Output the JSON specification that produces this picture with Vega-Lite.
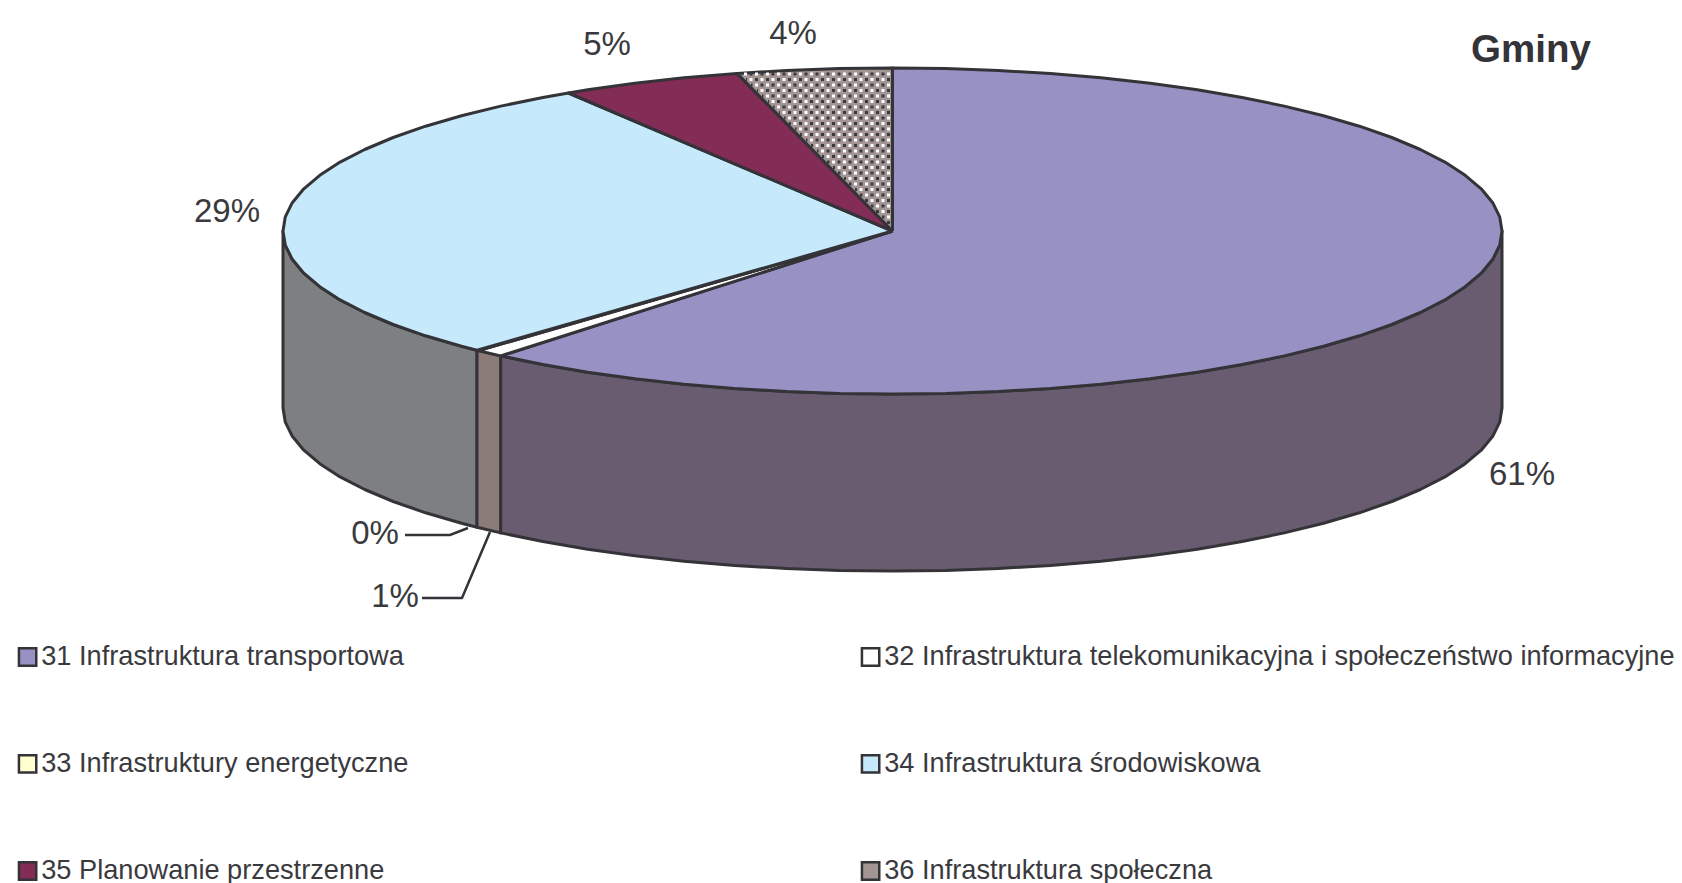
{"$schema":"https://vega.github.io/schema/vega-lite/v6.json","width":1682,"height":883,"padding":0,"autosize":{"type":"none"},"background":"white","config":{"view":{"stroke":null}},
"datasets":{
"side":[
{"f":"bok 34","x":283,"y":231,"y2":408},{"f":"bok 34","x":285.3,"y":245.2,"y2":422.2},{"f":"bok 34","x":292.3,"y":259.3,"y2":436.3},{"f":"bok 34","x":303.8,"y":273.2,"y2":450.2},{"f":"bok 34","x":319.8,"y":286.7,"y2":463.7},{"f":"bok 34","x":340.1,"y":299.9,"y2":476.9},{"f":"bok 34","x":364.7,"y":312.5,"y2":489.5},{"f":"bok 34","x":393.2,"y":324.5,"y2":501.5},{"f":"bok 34","x":425.6,"y":335.8,"y2":512.8},{"f":"bok 34","x":461.5,"y":346.3,"y2":523.3},{"f":"bok 34","x":477,"y":350.2,"y2":527.2},
{"f":"bok 32","x":477,"y":350.2,"y2":527.2},{"f":"bok 32","x":500.7,"y":355.9,"y2":532.9},
{"f":"bok 31","x":500.7,"y":355.9,"y2":532.9},{"f":"bok 31","x":542.9,"y":364.5,"y2":541.5},{"f":"bok 31","x":587.7,"y":372.2,"y2":549.2},{"f":"bok 31","x":634.9,"y":378.7,"y2":555.7},{"f":"bok 31","x":684,"y":384.2,"y2":561.2},{"f":"bok 31","x":734.7,"y":388.4,"y2":565.4},{"f":"bok 31","x":786.7,"y":391.5,"y2":568.5},{"f":"bok 31","x":839.4,"y":393.4,"y2":570.4},{"f":"bok 31","x":892.5,"y":394,"y2":571},{"f":"bok 31","x":945.6,"y":393.4,"y2":570.4},{"f":"bok 31","x":998.3,"y":391.5,"y2":568.5},{"f":"bok 31","x":1050.3,"y":388.4,"y2":565.4},{"f":"bok 31","x":1101,"y":384.2,"y2":561.2},{"f":"bok 31","x":1150.1,"y":378.7,"y2":555.7},{"f":"bok 31","x":1197.3,"y":372.2,"y2":549.2},{"f":"bok 31","x":1242.1,"y":364.5,"y2":541.5},{"f":"bok 31","x":1284.3,"y":355.9,"y2":532.9},{"f":"bok 31","x":1323.5,"y":346.3,"y2":523.3},{"f":"bok 31","x":1359.4,"y":335.8,"y2":512.8},{"f":"bok 31","x":1391.8,"y":324.5,"y2":501.5},{"f":"bok 31","x":1420.3,"y":312.5,"y2":489.5},{"f":"bok 31","x":1444.9,"y":299.9,"y2":476.9},{"f":"bok 31","x":1465.2,"y":286.7,"y2":463.7},{"f":"bok 31","x":1481.2,"y":273.2,"y2":450.2},{"f":"bok 31","x":1492.7,"y":259.3,"y2":436.3},{"f":"bok 31","x":1499.7,"y":245.2,"y2":422.2},{"f":"bok 31","x":1502,"y":231,"y2":408}
],
"top":[
{"f":"31 Infrastruktura transportowa","o":0,"x":892.5,"y":231},{"f":"31 Infrastruktura transportowa","o":1,"x":892.5,"y":68},{"f":"31 Infrastruktura transportowa","o":2,"x":945.6,"y":68.6},{"f":"31 Infrastruktura transportowa","o":3,"x":998.3,"y":70.5},{"f":"31 Infrastruktura transportowa","o":4,"x":1050.3,"y":73.6},{"f":"31 Infrastruktura transportowa","o":5,"x":1101,"y":77.8},{"f":"31 Infrastruktura transportowa","o":6,"x":1150.1,"y":83.3},{"f":"31 Infrastruktura transportowa","o":7,"x":1197.3,"y":89.8},{"f":"31 Infrastruktura transportowa","o":8,"x":1242.1,"y":97.5},{"f":"31 Infrastruktura transportowa","o":9,"x":1284.3,"y":106.1},{"f":"31 Infrastruktura transportowa","o":10,"x":1323.5,"y":115.7},{"f":"31 Infrastruktura transportowa","o":11,"x":1359.4,"y":126.2},{"f":"31 Infrastruktura transportowa","o":12,"x":1391.8,"y":137.5},{"f":"31 Infrastruktura transportowa","o":13,"x":1420.3,"y":149.5},{"f":"31 Infrastruktura transportowa","o":14,"x":1444.9,"y":162.1},{"f":"31 Infrastruktura transportowa","o":15,"x":1465.2,"y":175.3},{"f":"31 Infrastruktura transportowa","o":16,"x":1481.2,"y":188.8},{"f":"31 Infrastruktura transportowa","o":17,"x":1492.7,"y":202.7},{"f":"31 Infrastruktura transportowa","o":18,"x":1499.7,"y":216.8},{"f":"31 Infrastruktura transportowa","o":19,"x":1502,"y":231},{"f":"31 Infrastruktura transportowa","o":20,"x":1499.7,"y":245.2},{"f":"31 Infrastruktura transportowa","o":21,"x":1492.7,"y":259.3},{"f":"31 Infrastruktura transportowa","o":22,"x":1481.2,"y":273.2},{"f":"31 Infrastruktura transportowa","o":23,"x":1465.2,"y":286.7},{"f":"31 Infrastruktura transportowa","o":24,"x":1444.9,"y":299.9},{"f":"31 Infrastruktura transportowa","o":25,"x":1420.3,"y":312.5},{"f":"31 Infrastruktura transportowa","o":26,"x":1391.8,"y":324.5},{"f":"31 Infrastruktura transportowa","o":27,"x":1359.4,"y":335.8},{"f":"31 Infrastruktura transportowa","o":28,"x":1323.5,"y":346.3},{"f":"31 Infrastruktura transportowa","o":29,"x":1284.3,"y":355.9},{"f":"31 Infrastruktura transportowa","o":30,"x":1242.1,"y":364.5},{"f":"31 Infrastruktura transportowa","o":31,"x":1197.3,"y":372.2},{"f":"31 Infrastruktura transportowa","o":32,"x":1150.1,"y":378.7},{"f":"31 Infrastruktura transportowa","o":33,"x":1101,"y":384.2},{"f":"31 Infrastruktura transportowa","o":34,"x":1050.3,"y":388.4},{"f":"31 Infrastruktura transportowa","o":35,"x":998.3,"y":391.5},{"f":"31 Infrastruktura transportowa","o":36,"x":945.6,"y":393.4},{"f":"31 Infrastruktura transportowa","o":37,"x":892.5,"y":394},{"f":"31 Infrastruktura transportowa","o":38,"x":839.4,"y":393.4},{"f":"31 Infrastruktura transportowa","o":39,"x":786.7,"y":391.5},{"f":"31 Infrastruktura transportowa","o":40,"x":734.7,"y":388.4},{"f":"31 Infrastruktura transportowa","o":41,"x":684,"y":384.2},{"f":"31 Infrastruktura transportowa","o":42,"x":634.9,"y":378.7},{"f":"31 Infrastruktura transportowa","o":43,"x":587.7,"y":372.2},{"f":"31 Infrastruktura transportowa","o":44,"x":542.9,"y":364.5},{"f":"31 Infrastruktura transportowa","o":45,"x":500.7,"y":355.9},{"f":"31 Infrastruktura transportowa","o":46,"x":892.5,"y":231},
{"f":"32 Infrastruktura telekomunikacyjna i społeczeństwo informacyjne","o":0,"x":892.5,"y":231},{"f":"32 Infrastruktura telekomunikacyjna i społeczeństwo informacyjne","o":1,"x":500.7,"y":355.9},{"f":"32 Infrastruktura telekomunikacyjna i społeczeństwo informacyjne","o":2,"x":478.5,"y":350.6},{"f":"32 Infrastruktura telekomunikacyjna i społeczeństwo informacyjne","o":3,"x":892.5,"y":231},
{"f":"33 Infrastruktury energetyczne","o":0,"x":892.5,"y":231},{"f":"33 Infrastruktury energetyczne","o":1,"x":478.5,"y":350.6},{"f":"33 Infrastruktury energetyczne","o":2,"x":477,"y":350.2},{"f":"33 Infrastruktury energetyczne","o":3,"x":892.5,"y":231},
{"f":"34 Infrastruktura środowiskowa","o":0,"x":892.5,"y":231},{"f":"34 Infrastruktura środowiskowa","o":1,"x":477,"y":350.2},{"f":"34 Infrastruktura środowiskowa","o":2,"x":461.5,"y":346.3},{"f":"34 Infrastruktura środowiskowa","o":3,"x":425.6,"y":335.8},{"f":"34 Infrastruktura środowiskowa","o":4,"x":393.2,"y":324.5},{"f":"34 Infrastruktura środowiskowa","o":5,"x":364.7,"y":312.5},{"f":"34 Infrastruktura środowiskowa","o":6,"x":340.1,"y":299.9},{"f":"34 Infrastruktura środowiskowa","o":7,"x":319.8,"y":286.7},{"f":"34 Infrastruktura środowiskowa","o":8,"x":303.8,"y":273.2},{"f":"34 Infrastruktura środowiskowa","o":9,"x":292.3,"y":259.3},{"f":"34 Infrastruktura środowiskowa","o":10,"x":285.3,"y":245.2},{"f":"34 Infrastruktura środowiskowa","o":11,"x":283,"y":231},{"f":"34 Infrastruktura środowiskowa","o":12,"x":285.3,"y":216.8},{"f":"34 Infrastruktura środowiskowa","o":13,"x":292.3,"y":202.7},{"f":"34 Infrastruktura środowiskowa","o":14,"x":303.8,"y":188.8},{"f":"34 Infrastruktura środowiskowa","o":15,"x":319.8,"y":175.3},{"f":"34 Infrastruktura środowiskowa","o":16,"x":340.1,"y":162.1},{"f":"34 Infrastruktura środowiskowa","o":17,"x":364.7,"y":149.5},{"f":"34 Infrastruktura środowiskowa","o":18,"x":393.2,"y":137.5},{"f":"34 Infrastruktura środowiskowa","o":19,"x":425.6,"y":126.2},{"f":"34 Infrastruktura środowiskowa","o":20,"x":461.5,"y":115.7},{"f":"34 Infrastruktura środowiskowa","o":21,"x":500.7,"y":106.1},{"f":"34 Infrastruktura środowiskowa","o":22,"x":542.9,"y":97.5},{"f":"34 Infrastruktura środowiskowa","o":23,"x":568.5,"y":93},{"f":"34 Infrastruktura środowiskowa","o":24,"x":892.5,"y":231},
{"f":"35 Planowanie przestrzenne","o":0,"x":892.5,"y":231},{"f":"35 Planowanie przestrzenne","o":1,"x":568.5,"y":93},{"f":"35 Planowanie przestrzenne","o":2,"x":587.7,"y":89.8},{"f":"35 Planowanie przestrzenne","o":3,"x":634.9,"y":83.3},{"f":"35 Planowanie przestrzenne","o":4,"x":684,"y":77.8},{"f":"35 Planowanie przestrzenne","o":5,"x":737,"y":73.4},{"f":"35 Planowanie przestrzenne","o":6,"x":892.5,"y":231},
{"f":"36 Infrastruktura społeczna","o":0,"x":892.5,"y":231},{"f":"36 Infrastruktura społeczna","o":1,"x":737,"y":73.4},{"f":"36 Infrastruktura społeczna","o":2,"x":786.7,"y":70.5},{"f":"36 Infrastruktura społeczna","o":3,"x":839.4,"y":68.6},{"f":"36 Infrastruktura społeczna","o":4,"x":892.5,"y":68},{"f":"36 Infrastruktura społeczna","o":5,"x":892.5,"y":231}
],
"dots":[
{"r":"a","x":890,"y":74,"x2":741},{"r":"b","x":890,"y":79.5,"x2":746},{"r":"a","x":890,"y":85,"x2":751},{"r":"b","x":890,"y":90.5,"x2":757},{"r":"a","x":890,"y":96,"x2":762},{"r":"b","x":890,"y":101.5,"x2":768},{"r":"a","x":890,"y":107,"x2":773},{"r":"b","x":890,"y":112.5,"x2":779},{"r":"a","x":890,"y":118,"x2":784},{"r":"b","x":890,"y":123.5,"x2":789},{"r":"a","x":890,"y":129,"x2":795},{"r":"b","x":890,"y":134.5,"x2":800},{"r":"a","x":890,"y":140,"x2":806},{"r":"b","x":890,"y":145.5,"x2":811},{"r":"a","x":890,"y":151,"x2":817},{"r":"b","x":890,"y":156.5,"x2":822},{"r":"a","x":890,"y":162,"x2":827},{"r":"b","x":890,"y":167.5,"x2":833},{"r":"a","x":890,"y":173,"x2":838},{"r":"b","x":890,"y":178.5,"x2":844},{"r":"a","x":890,"y":184,"x2":849},{"r":"b","x":890,"y":189.5,"x2":855},{"r":"a","x":890,"y":195,"x2":860},{"r":"b","x":890,"y":200.5,"x2":865},{"r":"a","x":890,"y":206,"x2":871},{"r":"b","x":890,"y":211.5,"x2":876},{"r":"a","x":890,"y":217,"x2":882},{"r":"b","x":890,"y":222.5,"x2":887}
],
"leaders":[
{"k":"0%","o":0,"x":405,"y":535},{"k":"0%","o":1,"x":450,"y":535},{"k":"0%","o":2,"x":468,"y":528},
{"k":"1%","o":0,"x":422,"y":598},{"k":"1%","o":1,"x":462,"y":598},{"k":"1%","o":2,"x":490,"y":532}
],
"labels":[
{"t":"61%","x":1522,"y":475},{"t":"29%","x":227,"y":212},{"t":"5%","x":607,"y":45},{"t":"4%","x":793,"y":34},{"t":"0%","x":375,"y":534},{"t":"1%","x":395,"y":597}
],
"tytul":[{"t":"Gminy","x":1531,"y":50}]
},
"layer":[
{"data":{"name":"side"},"mark":{"type":"area","stroke":"#333338","strokeWidth":3,"strokeJoin":"round"},
"encoding":{"x":{"field":"x","type":"quantitative","scale":{"domain":[0,1682],"nice":false,"zero":false},"axis":null},"y":{"field":"y","type":"quantitative","scale":{"domain":[883,0],"nice":false,"zero":false},"axis":null},"y2":{"field":"y2"},
"fill":{"field":"f","type":"nominal"}}},
{"data":{"name":"top"},"mark":{"type":"line","stroke":"#333338","strokeWidth":3,"strokeJoin":"round"},
"encoding":{"x":{"field":"x","type":"quantitative"},"y":{"field":"y","type":"quantitative"},"order":{"field":"o","type":"quantitative"},
"fill":{"field":"f","type":"nominal","scale":{"domain":["31 Infrastruktura transportowa","32 Infrastruktura telekomunikacyjna i społeczeństwo informacyjne","33 Infrastruktury energetyczne","34 Infrastruktura środowiskowa","35 Planowanie przestrzenne","36 Infrastruktura społeczna","bok 31","bok 32","bok 34"],"range":["#9892C4","#FFFFFF","#FFFFD0","#C6EAFB","#832C55","#A39594","#6A5C70","#8B7C78","#7E7F80"]},
"legend":{"values":["31 Infrastruktura transportowa","32 Infrastruktura telekomunikacyjna i społeczeństwo informacyjne","33 Infrastruktury energetyczne","34 Infrastruktura środowiskowa","35 Planowanie przestrzenne","36 Infrastruktura społeczna"],"title":null,"orient":"none","legendX":14,"legendY":643,"direction":"horizontal","columns":2,"columnPadding":447,"rowPadding":78.2,"symbolType":"square","symbolSize":300,"symbolStrokeColor":"#333338","symbolStrokeWidth":2.5,"labelFont":"Liberation Sans","labelFontSize":27.2,"labelColor":"#3a3a3e","labelOffset":0,"labelLimit":900}}}},
{"data":{"name":"dots"},"transform":[{"filter":"datum.r==='a'"}],"mark":{"type":"rule","stroke":"#FFFFFF","strokeWidth":3,"strokeDash":[3,8]},"encoding":{"x":{"field":"x","type":"quantitative"},"x2":{"field":"x2"},"y":{"field":"y","type":"quantitative"}}},
{"data":{"name":"dots"},"transform":[{"filter":"datum.r==='b'"}],"mark":{"type":"rule","stroke":"#FFFFFF","strokeWidth":3,"strokeDash":[3,8],"strokeDashOffset":5.5},"encoding":{"x":{"field":"x","type":"quantitative"},"x2":{"field":"x2"},"y":{"field":"y","type":"quantitative"}}},
{"data":{"name":"dots"},"transform":[{"filter":"datum.r==='a'"}],"mark":{"type":"rule","stroke":"#3A3A3E","strokeWidth":3,"strokeDash":[3,8],"strokeDashOffset":5.5},"encoding":{"x":{"field":"x","type":"quantitative"},"x2":{"field":"x2"},"y":{"field":"y","type":"quantitative"}}},
{"data":{"name":"dots"},"transform":[{"filter":"datum.r==='b'"}],"mark":{"type":"rule","stroke":"#3A3A3E","strokeWidth":3,"strokeDash":[3,8]},"encoding":{"x":{"field":"x","type":"quantitative"},"x2":{"field":"x2"},"y":{"field":"y","type":"quantitative"}}},
{"data":{"name":"leaders"},"mark":{"type":"line","stroke":"#333338","strokeWidth":2.5},"encoding":{"x":{"field":"x","type":"quantitative"},"y":{"field":"y","type":"quantitative"},"detail":{"field":"k"},"order":{"field":"o","type":"quantitative"}}},
{"data":{"name":"labels"},"mark":{"type":"text","font":"Liberation Sans","fontSize":33,"color":"#3a3a3e","align":"center","baseline":"middle"},"encoding":{"x":{"field":"x","type":"quantitative"},"y":{"field":"y","type":"quantitative"},"text":{"field":"t"}}},
{"data":{"name":"tytul"},"mark":{"type":"text","font":"Liberation Sans","fontSize":38.5,"fontWeight":"bold","color":"#333338","align":"center","baseline":"middle"},"encoding":{"x":{"field":"x","type":"quantitative"},"y":{"field":"y","type":"quantitative"},"text":{"field":"t"}}}
]}
